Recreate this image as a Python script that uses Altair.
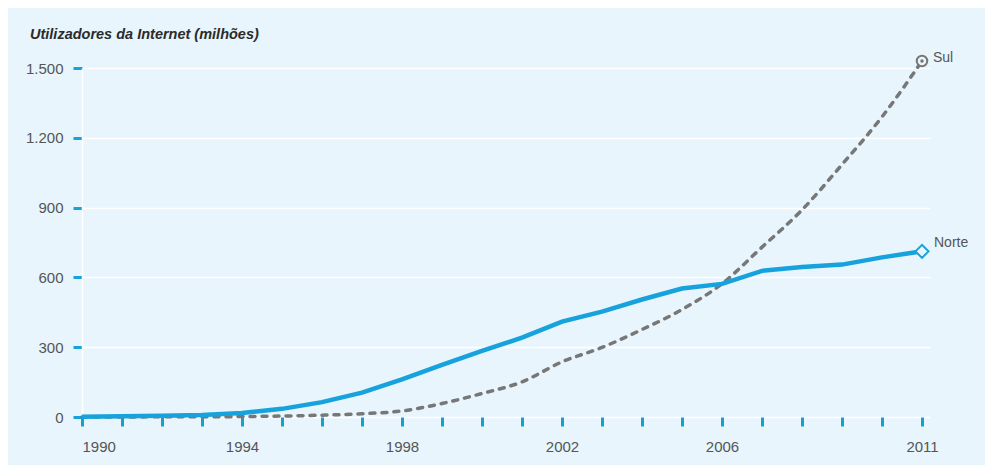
import altair as alt
import pandas as pd

years = list(range(1990, 2012))
norte = [1, 3, 5, 9, 17, 35, 64, 105, 162, 224, 284, 341, 410, 453, 505, 552, 572, 628, 645, 655, 686, 712]
sul = [0, 0, 1, 1, 2, 4, 8, 14, 26, 58, 101, 151, 237, 299, 376, 462, 573, 730, 890, 1085, 1290, 1530]
y_ticks = [0, 300, 600, 900, 1200, 1500]
x_labels = [1990, 1994, 1998, 2002, 2006, 2011]
title_text = ["Utilizadores da Internet (milhões)"]

BG = "#e8f5fc"
BLUE = "#16a2dc"
GRAY = "#777777"
TXT = "#555555"
FONT = "Liberation Sans, Arial, sans-serif"

df = pd.DataFrame({
    "ano": years * 2,
    "valor": norte + sul,
    "serie": ["Norte"] * len(years) + ["Sul"] * len(years),
})
last = df[df["ano"] == years[-1]]

x_enc = alt.X("ano:Q", scale=alt.Scale(domain=[1990, 2011.2], nice=False, zero=False),
              axis=alt.Axis(values=years, format="d", title=None, grid=False, domain=False,
                            tickColor="#1aa0c8", tickWidth=3, tickSize=9, labelPadding=13,
                            labelFont=FONT, labelFontSize=15, labelColor=TXT,
                            labelExpr="indexof(%s, datum.value) >= 0 ? datum.label : ''" % str(x_labels)))
y_enc = alt.Y("valor:Q", scale=alt.Scale(domain=[0, 1500], nice=False),
              axis=alt.Axis(values=y_ticks, title=None, grid=True, gridColor="white", gridWidth=1.5,
                            domain=True, domainColor="white", domainWidth=1.5,
                            tickColor=BLUE, tickWidth=3, tickSize=9, labelPadding=10,
                            labelFont=FONT, labelFontSize=15, labelColor=TXT,
                            labelExpr="replace(format(datum.value, ',d'), ',', '.')"))

base = alt.Chart(df)

sul_line = base.transform_filter("datum.serie == 'Sul'").mark_line(
    color=GRAY, strokeWidth=3.5, strokeDash=[5, 7], strokeCap="round",
    interpolate="monotone", clip=False
).encode(x=x_enc, y=y_enc)

norte_line = base.transform_filter("datum.serie == 'Norte'").mark_line(
    color=BLUE, strokeWidth=4.5, clip=False
).encode(x=x_enc, y=y_enc)

lb = alt.Chart(last)
norte_pt = lb.transform_filter("datum.serie == 'Norte'").mark_point(
    shape="diamond", size=170, filled=True, fill=BG, stroke=BLUE, strokeWidth=2, opacity=1
).encode(x="ano:Q", y="valor:Q")
sul_ring = lb.transform_filter("datum.serie == 'Sul'").mark_point(
    shape="circle", size=110, filled=True, fill=BG, stroke=GRAY, strokeWidth=2, opacity=1
).encode(x="ano:Q", y="valor:Q")
sul_dot = lb.transform_filter("datum.serie == 'Sul'").mark_point(
    shape="circle", size=12, filled=True, color=GRAY, opacity=1
).encode(x="ano:Q", y="valor:Q")

sul_txt = lb.transform_filter("datum.serie == 'Sul'").mark_text(
    align="left", baseline="middle", dx=11, dy=-3, font=FONT, fontSize=14, color=TXT
).encode(x="ano:Q", y="valor:Q", text="serie:N")
norte_txt = lb.transform_filter("datum.serie == 'Norte'").mark_text(
    align="left", baseline="middle", dx=12, dy=-8, font=FONT, fontSize=14, color=TXT
).encode(x="ano:Q", y="valor:Q", text="serie:N")

title_mark = alt.Chart(pd.DataFrame({"t": title_text})).mark_text(
    align="left", baseline="alphabetic", font=FONT, fontSize=14.5, fontWeight="bold",
    fontStyle="italic", color="#2b2b2b"
).encode(x=alt.value(-52), y=alt.value(-29), text="t:N")

chart = alt.layer(
    sul_line, norte_line, sul_ring, sul_dot, norte_pt, sul_txt, norte_txt, title_mark
).properties(
    width=848, height=349,
    autosize=alt.AutoSizeParams(type="none"),
    padding={"left": 74, "top": 60, "right": 55, "bottom": 48},
    background=BG,
).configure_view(stroke=None)

chart.save("out.html", embed_options={"renderer": "svg", "actions": False})
